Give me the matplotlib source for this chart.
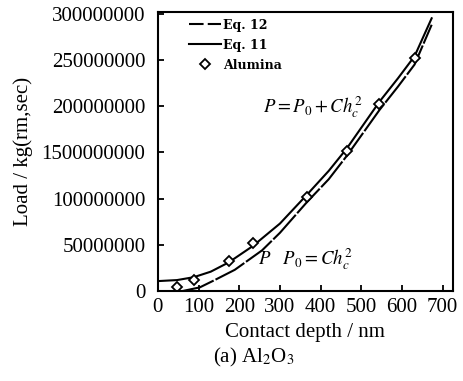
import matplotlib
matplotlib.use("Agg")
import matplotlib.pyplot as plt

plt.rcParams['font.family'] = ['Liberation Serif', 'DejaVu Serif']
plt.rcParams['mathtext.fontset'] = 'stix'

# Measured alumina indentation data
alumina_depth = [47, 88, 174, 233, 366, 464, 543, 631]          # nm
alumina_load = [4e6, 12e6, 32e6, 52e6, 102e6, 151e6, 202e6, 252e6]

# Fitted curve, Eq. 11: P = P0 + C*hc^2
eq11_depth = [0, 47, 88, 130, 174, 233, 300, 366, 420, 464, 545, 590, 631, 673]
eq11_load = [10.8e6, 11.9e6, 15e6, 21e6, 31e6, 48.6e6, 73e6, 104e6, 130e6,
             154e6, 205e6, 230e6, 254e6, 295e6]

# Fitted curve, Eq. 12: P - P0 = C*hc^2
eq12_depth = [60, 103, 140, 189, 256, 300, 366, 420, 464, 545, 590, 631, 673]
eq12_load = [0, 4e6, 12e6, 23e6, 44e6, 63e6, 96e6, 121e6, 146e6, 196e6,
             221e6, 245e6, 288e6]

x_ticks = [0, 100, 200, 300, 400, 500, 600, 700]
y_ticks = [0, 50e6, 100e6, 150e6, 200e6, 250e6, 300e6]
y_tick_labels = ['0', '50000000', '100000000', '1500000000', '200000000',
                 '250000000', '300000000']

fig = plt.figure(figsize=(4.63, 3.81), dpi=100)
ax = fig.add_axes([0.341, 0.236, 0.637, 0.733])

ax.plot(eq12_depth, eq12_load, color='black', lw=1.5,
        linestyle=(0, (16, 1.0)), label='Eq. 12')
ax.plot(eq11_depth, eq11_load, color='black', lw=1.5, label='Eq. 11')
ax.plot(alumina_depth, alumina_load, linestyle='none', marker='D',
        markersize=5, markerfacecolor='white', markeredgecolor='black',
        markeredgewidth=1.3, label='Alumina')

ax.set_xlim(0, 725)
ax.set_ylim(0, 302e6)
ax.set_xticks(x_ticks)
ax.set_yticks(y_ticks)
ax.set_yticklabels(y_tick_labels)
ax.tick_params(direction='in', length=4, width=1.3, labelsize=15)
ax.tick_params(axis='y', pad=9)
ax.tick_params(axis='x', pad=5)
for s in ax.spines.values():
    s.set_linewidth(1.5)

ax.set_xlabel('Contact depth / nm', fontsize=15, labelpad=4)
ax.set_ylabel('Load / kg(rm,sec)', fontsize=15, labelpad=6)

leg = ax.legend(loc='upper left', frameon=False, handlelength=2.6,
                handletextpad=0.1, labelspacing=0.55, borderaxespad=0,
                borderpad=0, bbox_to_anchor=(0.105, 0.975),
                prop={'family': 'DejaVu Serif', 'weight': 'bold', 'size': 9})
# make the dashed entry show its gap clearly in the legend
leg.get_lines()[0].set_linestyle((0, (7, 2)))

ax.text(0.355, 0.66, r'$P = P_0 + Ch_c^2$', transform=ax.transAxes,
        fontsize=13.5, ha='left', va='center')
ax.text(0.34, 0.115, r'$P\quad P_0 = Ch_c^2$', transform=ax.transAxes,
        fontsize=13.5, ha='left', va='center')

fig.text(0.548, 0.063, r'(a) Al$_2$O$_3$', fontsize=15, ha='center',
         va='center')

fig.savefig('out.png', dpi=100)
